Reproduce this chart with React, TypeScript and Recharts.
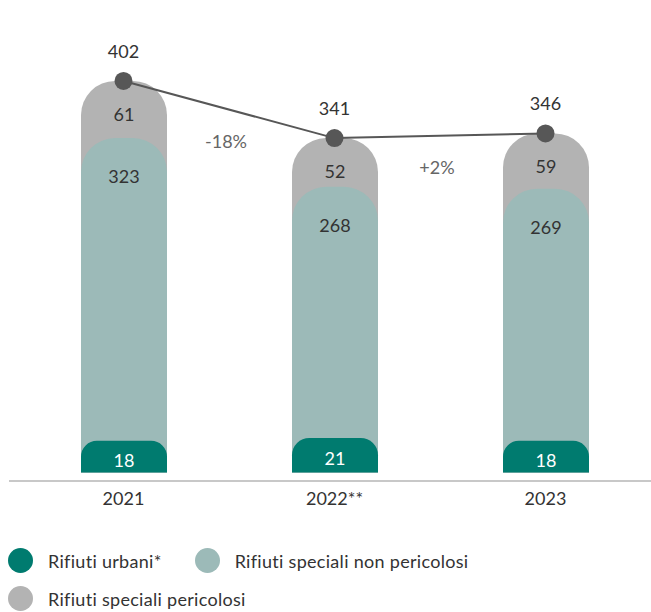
import React from "react";
import {
  ComposedChart,
  Bar,
  Line,
  XAxis,
  YAxis,
  LabelList,
} from "recharts";

const years = ["2021", "2022**", "2023"];
const urbani = [18, 21, 18];
const speciali = [323, 268, 269];
const pericolosi = [61, 52, 59];
const totali = [402, 341, 346];
const variazioni = ["", "-18%", "+2%"];

const legendItems = [
  { name: "Rifiuti urbani*", key: "urbani" },
  { name: "Rifiuti speciali non pericolosi", key: "speciali" },
  { name: "Rifiuti speciali pericolosi", key: "pericolosi" },
];

const COLORS: Record<string, string> = {
  urbani: "#007b6f",
  speciali: "#9cbab8",
  pericolosi: "#b3b3b3",
};

const FONT = "Lato, sans-serif";
// bars start slightly below zero so the small segments stay readable
const BASE = -16;

const data = years.map((year, i) => ({
  year,
  urbani: urbani[i],
  speciali: speciali[i],
  pericolosi: pericolosi[i],
  total: totali[i],
  change: variazioni[i],
  urbaniBar: [BASE, urbani[i]],
  specialiBar: [BASE, urbani[i] + speciali[i]],
  pericolosiBar: [BASE, totali[i]],
}));

const segLabel = (dy: number, color: string, mode: "top" | "center") => (props: any) => {
  const { x, y, width, height, value } = props;
  const cx = x + width / 2;
  const cy = mode === "top" ? y + dy : y + height / 2 + dy;
  return (
    <text
      x={cx}
      y={cy}
      textAnchor="middle"
      dominantBaseline="central"
      fill={color}
      fontSize={18}
      fontFamily={FONT}
    >
      {value}
    </text>
  );
};

const renderDot = (props: any) => {
  const { cx, cy, index, points, payload } = props;
  let pct = null;
  if (index > 0 && points && points[index - 1] && payload.change) {
    const prev = points[index - 1];
    const mx = (prev.x + cx) / 2;
    const my = (prev.y + cy) / 2;
    pct = (
      <text
        x={mx - 3}
        y={my + 31}
        textAnchor="middle"
        dominantBaseline="central"
        fill="#666"
        fontSize={18}
        fontFamily={FONT}
      >
        {payload.change}
      </text>
    );
  }
  return (
    <g key={`dot-${index}`}>
      <circle cx={cx} cy={cy} r={9} fill="#575757" />
      <text
        x={cx}
        y={cy - 30}
        textAnchor="middle"
        dominantBaseline="central"
        fill="#333"
        fontSize={18}
        fontFamily={FONT}
      >
        {payload.total}
      </text>
      {pct}
    </g>
  );
};

const yLabel = (props: any) => {
  const vb = props.viewBox || { x: 9, y: 36, height: 445 };
  const x = vb.x + 11;
  const y = vb.y + vb.height / 2;
  return (
    <text
      x={x}
      y={y}
      transform={`rotate(-90 ${x} ${y})`}
      textAnchor="middle"
      dominantBaseline="central"
      fill="#bdbdbd"
      fontSize={16}
      fontFamily={FONT}
    >
      migliaia di tonnellate
    </text>
  );
};

export default function App() {
  const pad = { left: 9, right: 0 };
  return (
    <div style={{ position: "relative", width: 651, height: 612, background: "#fff" }}>
      <style>{"body{margin:0;overflow:hidden}"}</style>
      <ComposedChart
        width={651}
        height={538}
        data={data}
        margin={{ top: 36, right: 0, bottom: 27, left: 9 }}
      >
        <XAxis xAxisId="mid" dataKey="year" padding={pad} height={0} hide />
        <XAxis xAxisId="front" dataKey="year" padding={pad} height={0} hide />
        <XAxis
          xAxisId="main"
          dataKey="year"
          padding={pad}
          height={30}
          tickLine={false}
          tickMargin={5}
          axisLine={{ stroke: "#c8c8c8", strokeWidth: 2 }}
          tick={{ fill: "#333", fontSize: 18, fontFamily: FONT }}
        />
        <YAxis
          type="number"
          domain={[-25, 450]}
          width={0}
          tick={false}
          tickLine={false}
          axisLine={false}
          label={{ content: yLabel }}
        />
        <Bar
          xAxisId="main"
          dataKey="pericolosiBar"
          barSize={86}
          fill={COLORS.pericolosi}
          radius={[34, 34, 0, 0]}
          isAnimationActive={false}
        >
          <LabelList dataKey="pericolosi" content={segLabel(33, "#333", "top")} />
        </Bar>
        <Bar
          xAxisId="mid"
          dataKey="specialiBar"
          barSize={86}
          fill={COLORS.speciali}
          radius={[34, 34, 0, 0]}
          isAnimationActive={false}
        >
          <LabelList dataKey="speciali" content={segLabel(38, "#333", "top")} />
        </Bar>
        <Bar
          xAxisId="front"
          dataKey="urbaniBar"
          barSize={86}
          fill={COLORS.urbani}
          radius={[34, 34, 0, 0]}
          isAnimationActive={false}
        >
          <LabelList dataKey="urbani" content={segLabel(3, "#fff", "center")} />
        </Bar>
        <Line
          xAxisId="main"
          type="linear"
          dataKey="total"
          stroke="#575757"
          strokeWidth={2}
          dot={renderDot}
          activeDot={false}
          isAnimationActive={false}
        />
      </ComposedChart>
      <div
        style={{
          position: "absolute",
          left: 8,
          top: 548,
          width: 470,
          display: "flex",
          flexWrap: "wrap",
          columnGap: 33,
          rowGap: 13,
          fontFamily: FONT,
          fontSize: 18,
          letterSpacing: 0.3,
          color: "#333",
        }}
      >
        {legendItems.map((item) => (
          <div key={item.key} style={{ display: "flex", alignItems: "center", height: 25 }}>
            <span
              style={{
                width: 25,
                height: 25,
                borderRadius: "50%",
                background: COLORS[item.key],
                marginRight: 15,
                display: "inline-block",
              }}
            />
            <span>{item.name}</span>
          </div>
        ))}
      </div>
    </div>
  );
}
